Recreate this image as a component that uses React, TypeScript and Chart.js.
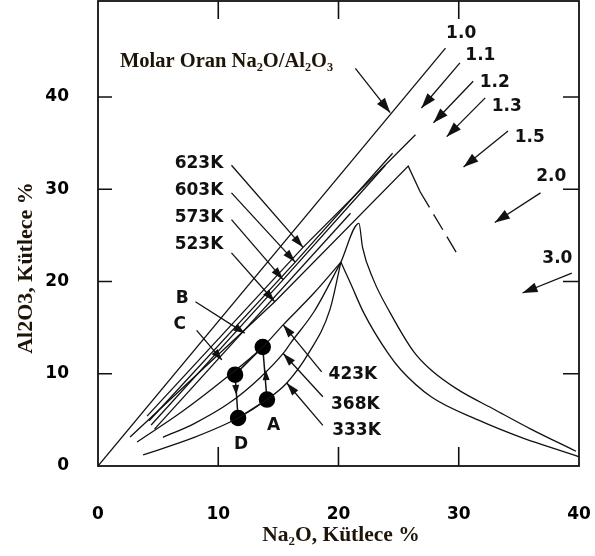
import React, { useEffect, useRef } from "react";
import { Chart, registerables } from "chart.js";
Chart.register(...registerables);

// ---- data (Na2O %, Al2O3 %) ----
const xTickValues = [0, 10, 20, 30, 40];
const yTickValues = [0, 10, 20, 30, 40];

const ratioLine10 = [[0, 0], [28.9, 45.3]];
const iso623 = [[4.08, 5.4], [17.05, 23.7], [26.4, 35.9]];
const iso603 = [[4.25, 4.9], [16.4, 22.1], [24.5, 33.9]];
const iso573 = [[4.42, 4.45], [15.4, 20.2], [23.9, 32.6]];
const isoBundleShort = [[4.7, 4.0], [21.0, 27.4]];
const iso523 = [[2.67, 3.14], [14.7, 17.8], [25.8, 32.5], [26.8, 29.7]];
const iso523Dashed = [[26.8, 29.7], [30.0, 22.7]];
const iso423 = [[3.25, 2.6], [7, 5.9], [10.5, 9.4], [13.7, 12.9], [15.4, 15.3], [18, 18.8], [20.2, 22.1]];
const iso368 = [[5.4, 3.1], [8, 4.6], [11, 6.9], [13.5, 9.6], [15.4, 12.2], [16, 13.3], [18, 16.8], [20.2, 22.1]];
const iso333 = [[3.75, 1.2], [8, 3.1], [11.65, 5.2], [14.05, 7.2], [15.7, 9.0], [17.5, 12.2], [19.3, 17.0], [20.2, 22.1]];
const solUpper = [[20.2, 22.1], [21.7, 26.3], [22.0, 23.7], [22.9, 20.2], [24.3, 16.6], [26.25, 12.4], [27.7, 10.4], [29.9, 8.3], [33, 6.1], [36, 4.0], [39.75, 1.6]];
const solLower = [[20.2, 22.1], [21.0, 19.8], [22.1, 16.6], [24.1, 12.25], [25.2, 10.4], [27.7, 7.5], [31.6, 5.0], [35.4, 3.0], [37.7, 2.0], [40, 1.0]];

const cycleNames = ["A", "B", "C", "D"];
const cycleNa2O = [14.05, 13.7, 11.4, 11.65];
const cycleAl2O3 = [7.2, 12.9, 9.9, 5.2];

const ratioLabels = ["1.0", "1.1", "1.2", "1.3", "1.5", "2.0", "3.0"];
const tempLabels = ["623K", "603K", "573K", "523K", "423K", "368K", "333K"];

const toXY = (arr: number[][]) => arr.map(([x, y]) => ({ x, y }));

export default function App() {
  const ref = useRef<HTMLCanvasElement>(null);
  useEffect(() => {
    if (!ref.current) return;
    const line = (data: number[][], extra: any = {}) => ({
      type: "line",
      data: toXY(data),
      borderColor: "#111",
      borderWidth: 1.3,
      pointRadius: 0,
      tension: 0,
      fill: false,
      ...extra,
    });

    const arrowHead = (ctx: CanvasRenderingContext2D, x1: number, y1: number, x2: number, y2: number, len = 11, w = 4) => {
      const a = Math.atan2(y2 - y1, x2 - x1);
      ctx.beginPath();
      ctx.moveTo(x2, y2);
      ctx.lineTo(x2 - len * Math.cos(a) + w * Math.sin(a), y2 - len * Math.sin(a) - w * Math.cos(a));
      ctx.lineTo(x2 - len * Math.cos(a) - w * Math.sin(a), y2 - len * Math.sin(a) + w * Math.cos(a));
      ctx.closePath();
      ctx.fill();
    };

    const annot = {
      id: "annot",
      afterDraw(chart: any) {
        const ctx: CanvasRenderingContext2D = chart.ctx;
        const xs = chart.scales.x, ys = chart.scales.y;
        const px = (v: number) => xs.getPixelForValue(v);
        const py = (v: number) => ys.getPixelForValue(v);
        const { left, right, top, bottom } = chart.chartArea;
        ctx.save();
        ctx.strokeStyle = "#111";
        ctx.fillStyle = "#111";
        ctx.lineWidth = 1.8;
        ctx.strokeRect(left, top, right - left, bottom - top);
        // inward ticks on all sides
        ctx.lineWidth = 1.6;
        xTickValues.slice(1, -1).forEach((v) => {
          ctx.beginPath();
          ctx.moveTo(px(v), bottom); ctx.lineTo(px(v), bottom - 19);
          ctx.moveTo(px(v), top); ctx.lineTo(px(v), top + 18);
          ctx.stroke();
        });
        yTickValues.slice(1).forEach((v) => {
          ctx.beginPath();
          ctx.moveTo(left, py(v)); ctx.lineTo(left + 14, py(v));
          ctx.moveTo(right, py(v)); ctx.lineTo(right - 16, py(v));
          ctx.stroke();
        });

        // axis titles
        ctx.fillStyle = "#1e1408";
        ctx.textAlign = "center";
        ctx.textBaseline = "middle";
        ctx.font = "bold 21.5px 'Liberation Serif'";
        ctx.fillText("Na\u2082O, Kütlece %", 341, 535);
        ctx.save();
        ctx.translate(26, 268);
        ctx.rotate(-Math.PI / 2);
        ctx.font = "bold 22px 'Liberation Serif'";
        ctx.fillText("Al2O3, Kütlece %", 0, 0);
        ctx.restore();

        // Molar ratio caption + arrow
        ctx.font = "bold 20.5px 'Liberation Serif'";
        ctx.textAlign = "left";
        ctx.fillText("Molar Oran Na\u2082O/Al\u2082O\u2083", 120, 62);
        ctx.fillStyle = "#111";
        ctx.lineWidth = 1.3;
        const arrow = (x1: number, y1: number, x2: number, y2: number, len = 12, w = 4.5) => {
          ctx.beginPath(); ctx.moveTo(px(x1), py(y1)); ctx.lineTo(px(x2), py(y2)); ctx.stroke();
          arrowHead(ctx, px(x1), py(y1), px(x2), py(y2), len, w);
        };
        arrow(21.4, 43.1, 24.3, 38.3, 15, 5);

        // ratio labels
        ctx.font = "bold 17px 'DejaVu Sans'";
        ctx.textAlign = "center";
        const rPos = [[30.2, 46.9], [31.8, 44.5], [33.0, 41.6], [34.0, 39.0], [35.9, 35.6], [37.7, 31.4], [38.2, 22.5]];
        ratioLabels.forEach((t, i) => ctx.fillText(t, px(rPos[i][0]), py(rPos[i][1])));
        const rArrows = [null, [30.1, 43.7, 26.9, 38.8], [31.2, 41.7, 27.9, 37.2], [32.2, 39.9, 29.0, 35.7], [34.1, 36.3, 30.4, 32.4], [36.8, 29.6, 33.0, 26.4], [39.4, 20.9, 35.3, 18.75]];
        rArrows.forEach((a) => { if (a) arrow(a[0], a[1], a[2], a[3], 15, 5); });

        // temperature labels with leaders
        const tPos = [[8.4, 32.8], [8.4, 29.8], [8.4, 26.9], [8.4, 24.0], [21.2, 9.9], [21.4, 6.7], [21.5, 3.8]];
        tempLabels.forEach((t, i) => ctx.fillText(t, px(tPos[i][0]), py(tPos[i][1])));
        const tLead = [
          [11.1, 32.6, 17.05, 23.7],
          [11.1, 29.6, 16.4, 22.1],
          [11.1, 26.7, 15.4, 20.2],
          [11.1, 23.1, 14.7, 17.8],
          [18.6, 10.2, 15.4, 15.3],
          [18.7, 7.5, 15.4, 12.2],
          [18.7, 4.4, 15.7, 9.0],
        ];
        tLead.forEach((a) => arrow(a[0], a[1], a[2], a[3], 13, 4));

        // point labels
        ctx.fillText("B", px(7.0), py(18.2));
        ctx.fillText("C", px(6.8), py(15.3));
        ctx.fillText("A", px(14.6), py(4.4));
        ctx.fillText("D", px(11.9), py(2.3));
        arrow(8.1, 17.8, 12.2, 14.4, 11, 4);
        arrow(8.2, 14.7, 10.3, 11.5, 11, 4);
        // cycle arrows
        arrowHead(ctx, px(cycleNa2O[0]), py(cycleAl2O3[0]), px(13.95), py(10.4), 10, 3.5);
        arrowHead(ctx, px(cycleNa2O[2]), py(cycleAl2O3[2]), px(11.5), py(7.7), 10, 3.5);
        ctx.restore();
      },
    };

    const zeroPad = (s: any) => { s.paddingLeft = 0; s.paddingRight = 0; s.paddingTop = 0; s.paddingBottom = 0; };

    const chart = new Chart(ref.current, {
      type: "scatter",
      data: {
        datasets: [
          line(ratioLine10),
          line(iso623),
          line(iso603),
          line(iso573),
          line(isoBundleShort),
          line(iso523),
          line(iso523Dashed, { borderDash: [18, 8] }),
          line(iso423, { cubicInterpolationMode: "monotone" }),
          line(iso368, { cubicInterpolationMode: "monotone" }),
          line(iso333, { cubicInterpolationMode: "monotone" }),
          line(solUpper, { cubicInterpolationMode: "monotone" }),
          line(solLower, { cubicInterpolationMode: "monotone" }),
          {
            type: "line",
            data: [0, 1, 2, 3, 0].map((i) => ({ x: cycleNa2O[i], y: cycleAl2O3[i] })),
            borderColor: "#111",
            borderWidth: 1.5,
            pointRadius: [7.5, 7.5, 7.5, 7.5, 0],
            pointBackgroundColor: "#000",
            pointBorderColor: "#000",
            tension: 0,
          },
        ] as any,
      },
      options: {
        responsive: false,
        animation: false,
        layout: { autoPadding: false, padding: { top: 1, right: 16, left: 0, bottom: 0 } },
        plugins: { legend: { display: false }, tooltip: { enabled: false } },
        scales: {
          x: {
            type: "linear",
            min: 0,
            max: 40,
            afterFit: (s: any) => { s.height = 90; zeroPad(s); },
            grid: { display: false },
            border: { display: false },
            afterBuildTicks: (s: any) => { s.ticks = xTickValues.map((v) => ({ value: v })); },
            ticks: { color: "#000", padding: 30, maxRotation: 0, font: { family: "'DejaVu Sans'", size: 17, weight: "bold" } },
          },
          y: {
            type: "linear",
            min: 0,
            max: 50.4,
            afterFit: (s: any) => { s.width = 98; zeroPad(s); },
            grid: { display: false },
            border: { display: false },
            afterBuildTicks: (s: any) => { s.ticks = yTickValues.map((v) => ({ value: v })); },
            ticks: { color: "#000", padding: 21, font: { family: "'DejaVu Sans'", size: 17, weight: "bold" } },
          },
        },
      },
      plugins: [annot],
    });
    return () => chart.destroy();
  }, []);
  return (
    <div style={{ position: "absolute", left: 0, top: 0, width: 595, height: 556, background: "#fff" }}>
      <canvas ref={ref} width={595} height={556} />
    </div>
  );
}
